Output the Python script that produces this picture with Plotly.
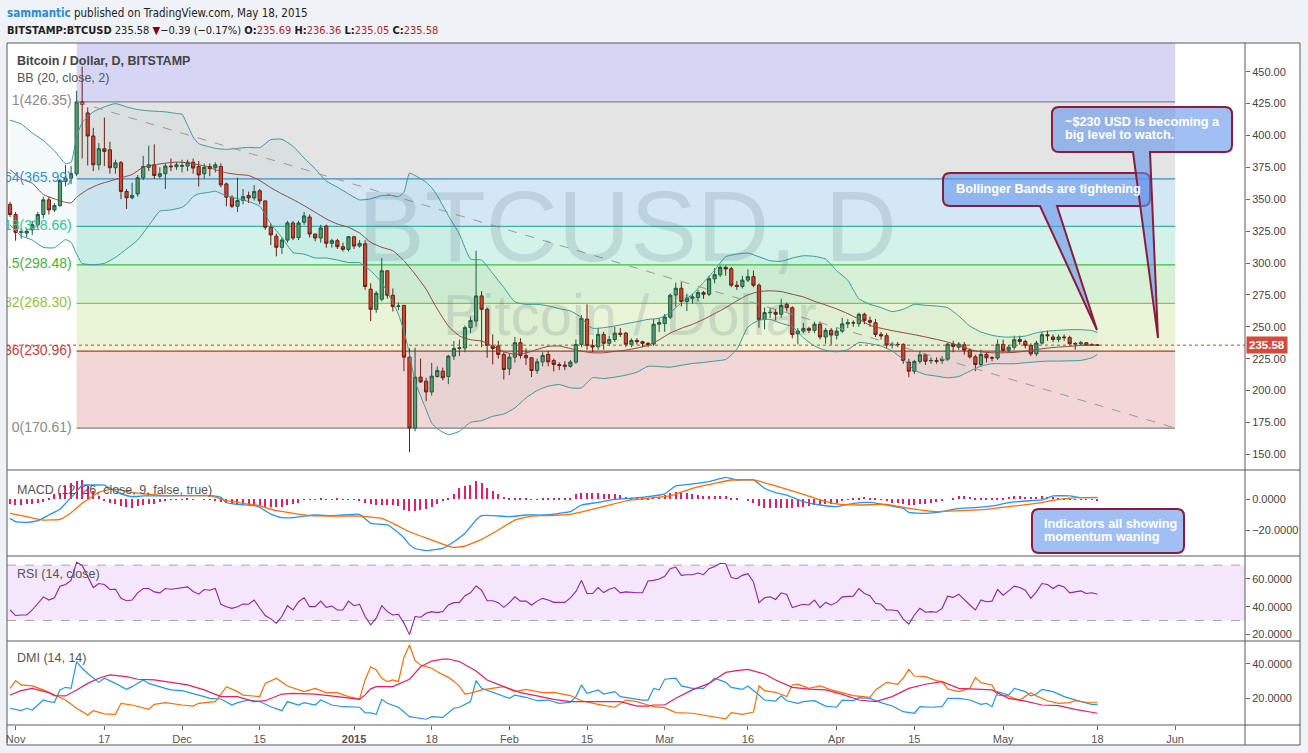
import pandas as pd
import plotly.graph_objects as go
from plotly.subplots import make_subplots

# ---------------- data ----------------
missing_days = ["2015-01-06", "2015-01-07", "2015-01-08"]   # Bitstamp halted trading
dates = [d.strftime("%Y-%m-%d") for d in pd.date_range("2014-10-31", "2015-05-18")
         if d.strftime("%Y-%m-%d") not in missing_days]

opens = [346, 338, 324, 323.5, 326, 330, 338, 349.5, 341.6, 345,
         364, 366.5, 370, 426.3, 417.7, 399.6, 377, 389.6, 388.8, 374.7,
         378.6, 356.1, 351.1, 354.2, 366.8, 375, 377, 368, 370, 376,
         375.5, 375.7, 376, 379, 375.7, 370, 375.7, 374.7, 375.7, 362,
         351.6, 344.5, 349, 353, 351, 356.6, 348.7, 328, 321, 312.3,
         318, 331.4, 319.9, 332, 336, 322.7, 319.6, 329, 315.4, 317.5,
         312.8, 310.7, 320.6, 313.3, 315, 279.5, 263.7,
         271.6, 293.9, 274.7, 266, 266.8, 226.2, 170.6, 210.5, 207.3, 198.9,
         211, 215.2, 211, 227, 233, 233.3, 249.3, 254.5, 274.2, 263.7,
         235, 235, 228.3,
         217, 226.2, 237.5, 227.5, 225.7, 215.7, 222.5, 228.3, 223.5, 220.4,
         220, 219, 222.3, 236.2, 256, 235.4, 234.3, 244, 237, 240,
         245, 245, 236.2, 239.3, 238.3, 237, 236.5, 252,
         252.5, 257.5, 274.9, 280.2, 269.8, 272.4, 273, 276.8, 275.5, 287.6,
         290.8, 296.6, 295.5, 282.6, 281.6, 286.6, 289.3, 282.6, 255.8, 261,
         261.3, 259.8, 267.6, 265, 244.5, 246.6, 248.7, 247.2, 252, 242, 247.2,
         243.3, 246.6, 252.3, 253, 252.5, 259.8, 255, 253.2, 244, 243,
         235.7, 236.2, 236.2, 222.3, 215.2, 222.8, 228, 223.2, 223.6, 223.4,
         224.6, 236.4, 234, 236, 231.6, 226.4, 220.4, 228.3, 225.7, 225.5,
         236.2, 231.6, 234, 240, 238.5, 235.4, 228.8, 237.2, 243.8, 242,
         240, 242, 241.5, 236.8, 236.5, 237.5, 236, 235.69]

highs = [348, 340, 327, 327, 333, 340, 352, 352, 347, 366,
         377, 376, 435, 454, 422, 406, 394, 414, 395, 381,
         380, 358, 363, 369, 384, 392, 393, 375, 378, 382,
         379, 381, 381, 382, 380, 378, 378, 379, 378, 363,
         353, 367, 358, 356, 361, 358, 349, 331, 323, 320,
         333, 333, 333, 340, 338, 323, 330, 330, 319, 319,
         316, 321, 321, 318, 318, 284, 278,
         304, 294, 280, 269, 267, 233, 233.6, 225, 210, 221.7,
         219, 218, 228, 238.8, 240, 251, 258, 309.6, 278, 265,
         244, 239, 230,
         229, 242, 241, 233, 226, 225, 230, 231, 225, 222,
         223, 224, 240, 259, 267.6, 240, 249, 246, 243, 250,
         249, 246, 241, 241, 239, 238, 256, 257,
         260, 276, 284.7, 285, 276, 276, 279, 278, 290, 296,
         298, 298, 297, 286, 290, 295, 294, 284, 265, 265,
         264, 272, 269, 266, 249, 253, 250, 254, 254, 249, 249,
         249, 257, 256, 255, 261, 261, 258, 256, 246, 245,
         238, 238, 237, 225, 224, 231, 229, 226, 226, 227,
         237, 239, 238, 238, 233, 228, 232, 230, 227, 240,
         240, 236, 243, 243, 240, 237, 239, 246, 247, 244,
         244, 244, 243, 238, 239, 238, 237, 236.36]

lows = [336, 317.5, 319, 320, 322, 327, 335, 338, 340, 344,
        360, 362, 368, 382, 376.5, 372, 373, 376, 370, 370,
        350, 342.4, 350, 352, 365, 372, 366, 366, 358, 372,
        373, 371, 372, 370, 360, 366, 368, 371, 359.5, 344.5,
        343, 340, 346, 347, 349, 346, 326, 314, 305.2, 307,
        316, 318, 318, 330, 320, 317, 316, 312, 312, 311,
        309, 309, 311, 312, 279, 254.5, 261,
        270, 272, 262, 263, 215.2, 151.7, 168, 206, 191.6, 196,
        210, 208, 205, 224, 227, 230, 245, 250, 234, 225.7,
        220.5, 225, 208.6,
        212, 222, 225, 220, 210.5, 213, 219, 219, 215, 216,
        216, 218, 221, 234, 232, 230, 232, 232, 235, 238,
        242, 234, 234, 236, 234, 234, 235, 246,
        246, 256, 265.6, 266, 262.4, 268, 270, 272, 274, 284,
        289, 290, 281, 279, 280, 285, 281, 249.3, 248, 257,
        255, 257, 262, 241, 236.2, 245, 245, 245, 240, 236.7, 236,
        240, 245, 249, 250, 250, 252, 250, 242, 240, 233,
        233, 234, 221, 210.5, 213, 221, 220, 221, 221, 221,
        223, 230, 232, 228, 225, 215.2, 219, 222, 223, 224,
        230, 230, 232, 236, 233, 227, 227, 236, 239, 238,
        238, 239, 235, 232, 235, 235, 235, 235.05]

closes = [338, 324, 324.5, 325, 330, 338, 349.5, 341.6, 345, 364.7,
          366.5, 370, 426.3, 424.5, 399.6, 377, 389.6, 387.5, 374.7, 378.6,
          356.1, 351.1, 353, 366.8, 375.7, 377, 368.6, 370, 376, 375.5,
          377, 376.5, 379, 374.4, 369, 375, 374, 377, 361.3, 351.6,
          344.5, 349, 352, 351, 356, 348.7, 328, 322, 312.3, 318,
          331.4, 319.6, 331.4, 336.9, 322.7, 319.6, 327.5, 315.4, 317.5, 312.8,
          310.7, 320.6, 313.3, 315.4, 281.6, 263.7, 276.3,
          293.9, 274.7, 265.8, 266.3, 226.2, 170.6, 210.5, 206.8, 198.9, 211.3,
          215.7, 210, 227, 233, 233.5, 249.3, 255, 274.2, 263.7, 235.4,
          233, 228.3, 216.5,
          226.2, 237.5, 227.5, 225.7, 215.7, 222.5, 227.5, 222.5, 220.4, 219.6,
          219, 222.3, 236.2, 256.6, 235.4, 234.1, 244, 237, 240, 245,
          244, 236.2, 239.3, 238.3, 237, 236.2, 252, 253.3,
          257.7, 274.7, 280.2, 269.8, 272.4, 273.4, 276.8, 275.5, 287.6, 290.8,
          296.6, 295.3, 282.6, 281.6, 286.6, 289.3, 282.6, 255.8, 261.1, 261.3,
          259.8, 266.8, 265, 244, 246.6, 248.7, 247.2, 252, 242, 247.2, 243.5,
          246.6, 252.3, 253.2, 253, 259.8, 255, 253.5, 244, 242.8, 235.7,
          236.2, 236, 223.6, 215.2, 222.8, 228, 223, 223.6, 223, 224.6,
          236.4, 234.5, 236.4, 231.6, 226.4, 220.4, 228.3, 225.7, 225.5, 236.2,
          231.6, 234, 239.8, 238.5, 235.4, 228.8, 237.2, 243.8, 243, 240,
          242, 241.5, 236.8, 236.5, 237.5, 235.5, 235.7, 235.58]

# Bollinger Bands (20, close, 2)  (MM-DD, value)
bb_upper = [("10-31", 412), ("11-02", 409), ("11-04", 402), ("11-06", 396), ("11-08", 388), ("11-10", 378),
            ("11-11", 379), ("11-12", 399), ("11-13", 410), ("11-15", 418.5), ("11-17", 422.4), ("11-19", 425),
            ("11-21", 422.4), ("11-23", 420.3), ("11-25", 419.3), ("11-28", 418.5), ("11-30", 417.2), ("12-01", 416.6),
            ("12-02", 408), ("12-03", 398.8), ("12-04", 393.6), ("12-06", 391), ("12-07", 389.9), ("12-09", 389.1),
            ("12-11", 389.9), ("12-13", 390.7), ("12-15", 390.4), ("12-17", 396.7), ("12-19", 397), ("12-21", 391.5),
            ("12-23", 382.3), ("12-25", 373.9), ("12-27", 364.2), ("12-29", 359.5), ("12-31", 354.2), ("01-02", 349.5),
            ("01-04", 350.3), ("01-09", 352.9), ("01-11", 352.9), ("01-12", 352.1), ("01-13", 355.5), ("01-14", 370.5),
            ("01-15", 368.6), ("01-17", 363.4), ("01-18", 359), ("01-19", 352.9), ("01-21", 337.2), ("01-23", 322.6),
            ("01-25", 303.1), ("01-27", 302.3), ("01-29", 291.8), ("01-31", 280.8), ("02-02", 269.5), ("02-04", 267.6),
            ("02-06", 267.6), ("02-08", 266.4), ("02-10", 264.2), ("02-12", 262.4), ("02-14", 257.2), ("02-15", 251.9),
            ("02-16", 248.8), ("02-18", 249.3), ("02-20", 250.6), ("02-22", 252.4), ("02-24", 254), ("02-26", 255.8),
            ("02-28", 256.6), ("03-02", 261.1), ("03-04", 268.9), ("03-06", 275.5), ("03-08", 284.7), ("03-10", 294.4),
            ("03-12", 304.9), ("03-14", 307), ("03-16", 307.8), ("03-18", 304.9), ("03-20", 301.8), ("03-22", 301.3),
            ("03-24", 303.9), ("03-26", 305.7), ("03-28", 305.2), ("03-30", 303.1), ("04-01", 293.9), ("04-03", 286.5),
            ("04-05", 272), ("04-07", 267.6), ("04-09", 265), ("04-11", 261.9), ("04-13", 263.7), ("04-15", 267.6),
            ("04-17", 266.8), ("04-19", 266.3), ("04-21", 265), ("04-23", 258.5), ("04-25", 250.6), ("04-27", 245.9),
            ("04-29", 243.3), ("05-01", 242), ("05-03", 242), ("05-05", 242.7), ("05-07", 245.3), ("05-09", 246.6),
            ("05-11", 247.2), ("05-13", 247.7), ("05-15", 247.7), ("05-17", 247), ("05-18", 245.4)]

bb_mid = [("10-31", 373.1), ("11-02", 366), ("11-04", 362.6), ("11-06", 353.7), ("11-08", 350.3), ("11-10", 347.6),
          ("11-11", 347.1), ("11-12", 351.6), ("11-14", 357.6), ("11-16", 361.6), ("11-18", 364.2), ("11-20", 366.8),
          ("11-22", 369.4), ("11-24", 375.2), ("11-26", 377), ("11-28", 378.3), ("11-30", 379.1), ("12-02", 378.6),
          ("12-04", 377), ("12-06", 375.2), ("12-07", 373.1), ("12-09", 370.7), ("12-11", 369.4), ("12-13", 368.6),
          ("12-15", 364.7), ("12-17", 359), ("12-19", 354.2), ("12-21", 349.8), ("12-23", 345), ("12-25", 339.8),
          ("12-27", 334.5), ("12-29", 330.6), ("12-31", 328), ("01-02", 323.5), ("01-04", 316.2), ("01-09", 312.3),
          ("01-11", 309.6), ("01-13", 301.8), ("01-15", 291.3), ("01-17", 279.5), ("01-18", 271.6), ("01-19", 264),
          ("01-21", 250.6), ("01-23", 242.8), ("01-25", 239.8), ("01-27", 238.8), ("01-29", 234.9), ("01-31", 230.4),
          ("02-02", 228.3), ("02-04", 229.4), ("02-06", 232.2), ("02-08", 234.6), ("02-10", 234.9), ("02-12", 233),
          ("02-14", 230.9), ("02-16", 229.6), ("02-18", 229.6), ("02-20", 230.7), ("02-22", 231.7), ("02-24", 233.3),
          ("02-26", 235.4), ("02-28", 239.8), ("03-02", 245.1), ("03-04", 248.8), ("03-06", 251.9), ("03-08", 255.8),
          ("03-10", 260.3), ("03-12", 265), ("03-14", 270.3), ("03-16", 275), ("03-18", 277.6), ("03-20", 278.2),
          ("03-22", 277.6), ("03-24", 275.5), ("03-26", 273.4), ("03-28", 270), ("03-30", 267.1), ("04-01", 264),
          ("04-03", 260.3), ("04-05", 256), ("04-07", 251.1), ("04-09", 248.8), ("04-11", 247), ("04-13", 245.4),
          ("04-15", 243.8), ("04-17", 242), ("04-19", 240.1), ("04-21", 238), ("04-23", 235.1), ("04-25", 232.2),
          ("04-27", 230.4), ("04-29", 229.6), ("05-01", 229.6), ("05-03", 229.9), ("05-05", 230.9), ("05-07", 232.2),
          ("05-09", 233.3), ("05-11", 234.1), ("05-13", 234.6), ("05-15", 235.4), ("05-18", 235.7)]

bb_lower = [("10-31", 329.8), ("11-02", 321.4), ("11-04", 318), ("11-06", 312.3), ("11-08", 312), ("11-10", 318.3),
            ("11-11", 316.2), ("11-12", 307), ("11-13", 299.7), ("11-15", 298.6), ("11-17", 299.7), ("11-19", 304.4),
            ("11-21", 311), ("11-23", 318), ("11-25", 329.3), ("11-27", 340.6), ("11-29", 341.6), ("12-01", 343.7),
            ("12-02", 346.9), ("12-03", 352.1), ("12-04", 354.2), ("12-06", 355.5), ("12-07", 356.3), ("12-09", 352.6),
            ("12-11", 350.5), ("12-13", 348.2), ("12-15", 344.5), ("12-17", 330.6), ("12-19", 320.1), ("12-21", 308.3),
            ("12-23", 307), ("12-25", 303.9), ("12-27", 303.9), ("12-29", 302.3), ("12-31", 300.4), ("01-02", 300.2),
            ("01-04", 293.9), ("01-09", 284.7), ("01-11", 269), ("01-12", 259.8), ("01-13", 246.7), ("01-14", 228.3),
            ("01-15", 207.3), ("01-17", 185), ("01-18", 174.5), ("01-19", 170.1), ("01-21", 165.4), ("01-23", 168),
            ("01-25", 175.1), ("01-27", 176.4), ("01-29", 179.8), ("01-31", 181.6), ("02-02", 186.4), ("02-04", 194.2),
            ("02-06", 200), ("02-08", 203.4), ("02-10", 204.7), ("02-12", 202.1), ("02-14", 202.1), ("02-16", 210),
            ("02-18", 209.4), ("02-20", 210.5), ("02-22", 212.1), ("02-24", 214.4), ("02-26", 219), ("02-28", 218.8),
            ("03-02", 218.3), ("03-04", 219.8), ("03-06", 221.2), ("03-08", 222), ("03-10", 223.1), ("03-12", 224.4),
            ("03-14", 232.3), ("03-16", 249.8), ("03-18", 255.1), ("03-20", 255.8), ("03-22", 252.7), ("03-24", 250.1),
            ("03-26", 241.4), ("03-28", 234.9), ("03-30", 231.5), ("04-01", 230.4), ("04-03", 232), ("04-05", 237.7),
            ("04-07", 236.7), ("04-09", 234.9), ("04-11", 231), ("04-13", 224.4), ("04-15", 216), ("04-17", 212.6),
            ("04-19", 211.3), ("04-21", 210), ("04-23", 211), ("04-25", 215.2), ("04-27", 219.1), ("04-29", 221),
            ("05-01", 221), ("05-03", 221), ("05-05", 221.8), ("05-07", 222.5), ("05-09", 223.1), ("05-11", 223.1),
            ("05-13", 223.3), ("05-15", 223.6), ("05-17", 225.7), ("05-18", 228.3)]

# MACD (12, 26, close, 9)
macd_line = [("10-31", -12.4), ("11-01", -14.5), ("11-03", -15), ("11-05", -13.9), ("11-07", -10.2), ("11-09", -6.5),
             ("11-10", -2.6), ("11-12", 5), ("11-13", 9.3), ("11-15", 9.3), ("11-17", 9.3), ("11-18", 7.2),
             ("11-20", 3.5), ("11-22", 1.7), ("11-24", 2.2), ("11-27", 2.2), ("11-30", 2.4), ("12-03", 2.4),
             ("12-06", 2.4), ("12-08", 1.3), ("12-09", -2.2), ("12-11", -3.3), ("12-14", -4.1), ("12-15", -5.2),
             ("12-17", -9.6), ("12-19", -11.9), ("12-21", -11.9), ("12-23", -10.9), ("12-25", -10.2), ("12-28", -10.6),
             ("12-30", -10.2), ("01-02", -9.8), ("01-04", -15.6), ("01-05", -16), ("01-10", -16.7), ("01-11", -19),
             ("01-13", -25), ("01-14", -29.5), ("01-15", -32), ("01-17", -33.4), ("01-18", -33), ("01-20", -31.9),
             ("01-22", -27.6), ("01-24", -22.1), ("01-25", -17.8), ("01-26", -13.5), ("01-27", -10.6), ("01-29", -10.6),
             ("02-01", -11.3), ("02-04", -10.2), ("02-07", -10.2), ("02-10", -9.1), ("02-12", -8), ("02-14", -3.7),
             ("02-17", -2), ("02-20", 0), ("02-23", 0.7), ("02-26", 1.7), ("03-01", 3.5), ("03-03", 8.7),
             ("03-06", 10), ("03-09", 11.5), ("03-12", 14.3), ("03-14", 12.6), ("03-17", 12.6), ("03-19", 7.2),
             ("03-21", 4.3), ("03-23", 2.8), ("03-26", -1.5), ("03-29", -3.7), ("04-01", -4.8), ("04-04", -2.6),
             ("04-07", -2), ("04-10", -3.7), ("04-13", -5.9), ("04-14", -8.5), ("04-17", -9.1), ("04-20", -8),
             ("04-23", -5.9), ("04-26", -5.4), ("04-29", -4.3), ("05-02", -2.2), ("05-05", -1.1), ("05-08", -0.4),
             ("05-10", 2.2), ("05-13", 2.2), ("05-15", 1.1), ("05-18", 1.1)]

signal_line = [("10-31", -9.1), ("11-03", -11.3), ("11-06", -13.5), ("11-09", -13), ("11-11", -8.7), ("11-13", -2.6),
               ("11-16", 4.5), ("11-18", 6.5), ("11-20", 6.1), ("11-22", 4.6), ("11-25", 3.3), ("11-28", 2.4),
               ("12-02", 2.4), ("12-06", 2.4), ("12-09", -0.9), ("12-12", -2.6), ("12-15", -4.3), ("12-18", -7.4),
               ("12-21", -9.1), ("12-24", -10.6), ("12-29", -10.9), ("01-02", -10.9), ("01-09", -12.4), ("01-11", -15.6),
               ("01-14", -21.1), ("01-18", -26.5), ("01-21", -30.4), ("01-22", -31.3), ("01-24", -30.4), ("01-27", -26.1),
               ("01-30", -20), ("02-02", -13.5), ("02-05", -10.9), ("02-08", -10.6), ("02-12", -9.8), ("02-15", -7.4),
               ("02-19", -3.7), ("02-23", -0.4), ("02-26", 0.7), ("03-02", 2.2), ("03-06", 7.2), ("03-10", 10.4),
               ("03-13", 12.6), ("03-17", 12.6), ("03-21", 8.7), ("03-26", 3.3), ("03-29", -0.4), ("04-01", -3),
               ("04-05", -3.7), ("04-10", -3.3), ("04-14", -5.9), ("04-19", -8), ("04-23", -7.4), ("04-28", -6.5),
               ("05-02", -4.8), ("05-07", -2.6), ("05-11", 0), ("05-15", 1.1), ("05-18", 1.3)]

macd_hist = [-3.3, -3.7, -3.7, -3.3, -2.8, -2.6, -1.7, 1.1, 3.3, 4.3,
             8.7, 10.9, 12, 12.6, 8.7, 5.4, 2.2, -1.1, -2.2, -3.3,
             -4.3, -4.8, -5.4, -4.3, -3.7, -3.3, -2.8, -1.7, -0.7, -0.4,
             -0.2, 0.2, 0.3, 0.2, 0, -0.2, -0.3, -0.7, -1.7, -2.6,
             -3.3, -3.7, -3.9, -3.9, -3.9, -4.3, -4.8, -5, -5, -4.8,
             -3.9, -3.3, -2.2, -0.4, -0.2, 0.2, 0.3, 0.2, 0.2, 0.3,
             0.1, 0.2, -0.2, -1.1, -2.2, -3.3, -3.7,
             -3.7, -3.7, -3.7, -4.3, -7, -7.6, -7.6, -7, -6.1, -5,
             -2.8, -1.1, 0.4, 3.3, 7.2, 8.7, 9.3, 12, 10.9, 7.6,
             5.4, 3.3, 1.7,
             0.5, 0.4, 0.4, 0.3, 0.2, 0.2, 0.3, 0.3, 0.3, 0.3,
             0.3, 1.1, 3.3, 4.3, 4.3, 4.3, 4.3, 3.7, 3.3, 3.3,
             2.8, 1.5, 1.1, 0.7, 0.4, 1.1, 1.5, 1.7,
             2.6, 3.9, 4.8, 5, 3.9, 3.3, 2.6, 2.2, 2.2, 2.2,
             2.2, 2.2, 1.1, 0.4, 0, -1.1, -2.2, -4.3, -5.4, -5.9,
             -5.9, -5.9, -5.4, -5.4, -5, -4.8, -4.3, -3.9, -3.7, -3.3, -2.8,
             -2.2, -1.1, 0.2, 0.7, 1.1, 1.5, 1.1, 0.4, -0.4, -1.1,
             -2.2, -2.6, -3.3, -3.7, -3.7, -3.3, -2.8, -2.2, -1.7, -1.1,
             0, 1.1, 2.2, 2.2, 1.5, 1.1, 0.7, 0.4, 0.4, 0.7,
             1.1, 1.7, 2.2, 2.2, 1.7, 1.5, 1.7, 2.2, 1.7, 1.7,
             1.1, 0.4, 0.2, 0.1, 0.1, 0.1, -0.4, -0.7]

# RSI (14, close), one value per bar
rsi = [37.6, 33.6, 34, 34, 37.6, 42.5, 47.1, 44.8, 46.4, 54.8,
       56, 59, 72.1, 69.8, 61.9, 53.8, 56.7, 56, 52.4, 52.6,
       46, 44.3, 44.8, 50, 53.1, 53.1, 50.7, 50, 53.1, 52.6,
       53.1, 53.5, 54.3, 51, 49, 52.4, 51.9, 53.1, 41.7, 40,
       38.8, 40, 41.9, 41.7, 44.8, 39, 33.6, 31.2, 28.1, 32.9,
       40.7, 37.6, 43.6, 46.4, 40, 40, 44, 39.5, 40.5, 37.6,
       37.6, 44, 40.7, 41.7, 32.9, 26.9, 31.7,
       40.7, 36.4, 34, 34.5, 28.1, 19.8, 32.9, 32.4, 35.2, 36.4,
       35.7, 36.5, 41.2, 42.9, 43.1, 47.9, 50, 55, 51.9, 44.3,
       44.3, 42.9, 39.5,
       42.9, 47.1, 44, 44, 41.2, 44, 46, 44.8, 43.1, 43.1,
       43.1, 46.4, 51, 59, 49.5, 49.5, 53.8, 50.2, 52.6, 53.8,
       50, 50.7, 50.2, 50, 50, 58.5, 59, 60,
       61.9, 67.4, 68.6, 62.6, 63.1, 63.1, 64.3, 63.1, 67.4, 69,
       71.4, 71, 61, 60.2, 62.6, 63.8, 57.9, 42.9, 46.4, 47.1,
       45.2, 50, 48.8, 39.3, 40.7, 41.7, 41.2, 44.8, 39.3, 43.1, 41.2,
       43.1, 47.1, 47.6, 47.6, 53.1, 49.5, 47.9, 42.4, 41.7, 37.6,
       37.6, 37.1, 31, 27.4, 34, 38.8, 36, 36.4, 36, 38.8,
       47.6, 46.7, 49, 44.8, 41.2, 37.6, 44.8, 43.6, 44, 52.4,
       48.3, 51.4, 54.8, 53.8, 51.9, 46, 50.7, 56.7, 56, 53.1,
       55.5, 54.3, 50, 50.7, 51.4, 49.5, 50, 49]

# DMI (14, 14)
plus_di = [("10-31", 14.2), ("11-02", 12.8), ("11-03", 14.2), ("11-04", 13.2), ("11-06", 19), ("11-07", 18.1),
           ("11-08", 17.7), ("11-09", 24.9), ("11-10", 26.4), ("11-11", 25.8), ("11-12", 41.4), ("11-13", 37.5),
           ("11-14", 34.5), ("11-15", 31.7), ("11-16", 29.3), ("11-17", 31.7), ("11-19", 28.7), ("11-21", 25.2),
           ("11-22", 26.8), ("11-24", 30.7), ("11-25", 28.7), ("11-28", 25.8), ("11-29", 24.9), ("12-01", 24.5),
           ("12-03", 22.9), ("12-05", 21), ("12-06", 20), ("12-08", 19.6), ("12-10", 16.1), ("12-11", 17.5),
           ("12-13", 19), ("12-15", 18.1), ("12-17", 15.1), ("12-19", 12.8), ("12-20", 18.1), ("12-22", 16.1),
           ("12-23", 17.5), ("12-25", 16.1), ("12-26", 19), ("12-28", 16.1), ("12-30", 15.1), ("01-02", 14.8),
           ("01-03", 11.7), ("01-04", 11.5), ("01-05", 10.7), ("01-09", 19.4), ("01-10", 17.1), ("01-12", 14.8),
           ("01-14", 9.3), ("01-17", 7.8), ("01-18", 9.3), ("01-20", 8.9), ("01-22", 14.2), ("01-23", 14.8),
           ("01-25", 18.1), ("01-26", 30.3), ("01-27", 25.8), ("01-29", 23.3), ("01-30", 22.5), ("02-01", 20),
           ("02-02", 21.9), ("02-04", 20.6), ("02-06", 18.6), ("02-08", 19), ("02-10", 17.1), ("02-12", 17.7),
           ("02-13", 21), ("02-14", 27.8), ("02-15", 22.9), ("02-17", 24.9), ("02-18", 22.5), ("02-20", 23.9),
           ("02-21", 21), ("02-23", 20), ("02-25", 19), ("02-26", 19), ("02-27", 25.8), ("02-28", 24.9),
           ("03-01", 31.1), ("03-03", 31.7), ("03-04", 27.2), ("03-06", 25.8), ("03-08", 25.8), ("03-09", 28.7),
           ("03-10", 31.7), ("03-12", 29.3), ("03-13", 26.4), ("03-15", 25.2), ("03-16", 27.2), ("03-18", 21.9),
           ("03-19", 19), ("03-21", 18.4), ("03-22", 21.4), ("03-23", 18.6), ("03-25", 17.1), ("03-26", 18.1),
           ("03-28", 18.6), ("03-30", 15.5), ("04-01", 14.8), ("04-02", 19), ("04-04", 18.6), ("04-05", 20.4),
           ("04-07", 20), ("04-09", 17.5), ("04-11", 15.5), ("04-13", 12.2), ("04-15", 11.3), ("04-16", 15.1),
           ("04-18", 14.8), ("04-20", 15.1), ("04-21", 20), ("04-23", 20), ("04-25", 19), ("04-27", 16.5),
           ("04-28", 17.1), ("04-29", 15.1), ("04-30", 23.9), ("05-02", 21.9), ("05-03", 25.8), ("05-05", 23.9),
           ("05-06", 21.4), ("05-07", 22.5), ("05-08", 25.2), ("05-10", 23.9), ("05-12", 21), ("05-15", 18.1),
           ("05-17", 16.5), ("05-18", 16.5)]

minus_di = [("10-31", 25.8), ("11-01", 30.3), ("11-02", 27.8), ("11-04", 27.2), ("11-06", 24.9), ("11-08", 21.9),
            ("11-10", 19), ("11-12", 14.2), ("11-14", 10.3), ("11-15", 12.8), ("11-17", 10.9), ("11-19", 10.7),
            ("11-20", 17.1), ("11-22", 16.1), ("11-25", 13.6), ("11-26", 16.5), ("11-28", 17.5), ("12-01", 16.1),
            ("12-03", 15.5), ("12-04", 17.1), ("12-07", 18.1), ("12-09", 26.8), ("12-11", 23.9), ("12-12", 21.9),
            ("12-15", 21), ("12-16", 28.7), ("12-18", 31.7), ("12-20", 27.2), ("12-23", 23.9), ("12-25", 25.8),
            ("12-27", 23.3), ("12-29", 23.3), ("12-31", 21), ("01-02", 19.6), ("01-03", 30.7), ("01-04", 38.4),
            ("01-05", 36.5), ("01-09", 31.7), ("01-10", 29.7), ("01-11", 30.7), ("01-12", 29.7), ("01-13", 44),
            ("01-14", 51.1), ("01-15", 41.9), ("01-16", 39.4), ("01-17", 38.5), ("01-18", 37.5), ("01-19", 35.5),
            ("01-21", 32.2), ("01-22", 30), ("01-23", 27), ("01-24", 22.5), ("01-25", 23), ("01-27", 24.9),
            ("01-29", 25.8), ("01-31", 26.8), ("02-02", 23.9), ("02-04", 25.2), ("02-07", 23.3), ("02-09", 23.5),
            ("02-12", 21.6), ("02-14", 18.6), ("02-17", 16.5), ("02-20", 14.8), ("02-22", 19), ("02-24", 18.1),
            ("02-26", 16.1), ("02-27", 15.1), ("03-01", 14.6), ("03-03", 11.7), ("03-06", 11.3), ("03-09", 9.7),
            ("03-12", 8), ("03-13", 11.7), ("03-15", 10.7), ("03-17", 12), ("03-18", 27.2), ("03-19", 24.5),
            ("03-21", 23.5), ("03-23", 21), ("03-24", 27.8), ("03-25", 28.3), ("03-27", 25.8), ("03-29", 27.2),
            ("03-31", 24.9), ("04-02", 23.3), ("04-04", 21.6), ("04-07", 20.6), ("04-08", 24.9), ("04-10", 29.3),
            ("04-12", 28.2), ("04-13", 31.7), ("04-14", 36.9), ("04-15", 33), ("04-17", 32.6), ("04-19", 30.3),
            ("04-20", 29.7), ("04-21", 25.5), ("04-23", 23.9), ("04-25", 25.8), ("04-26", 32.2), ("04-27", 29.1),
            ("04-29", 27.8), ("04-30", 21.9), ("05-02", 21.4), ("05-03", 20), ("05-04", 19), ("05-06", 23.3),
            ("05-07", 21.4), ("05-09", 18.6), ("05-11", 17.1), ("05-13", 17.5), ("05-14", 18.6), ("05-16", 17.7),
            ("05-18", 17.7)]

adx = [("10-31", 21.9), ("11-02", 24.5), ("11-04", 25.8), ("11-06", 24), ("11-07", 23.3), ("11-08", 21.6),
       ("11-10", 21.4), ("11-12", 24.9), ("11-14", 28.7), ("11-16", 31.7), ("11-18", 33.6), ("11-21", 32.6),
       ("11-23", 31.1), ("11-26", 30.7), ("11-29", 29.3), ("12-02", 27.8), ("12-05", 24.9), ("12-08", 21),
       ("12-11", 21), ("12-14", 18.1), ("12-16", 18.6), ("12-19", 22.5), ("12-21", 22.9), ("12-25", 22.5),
       ("12-29", 21), ("01-02", 19.4), ("01-03", 22), ("01-04", 25.5), ("01-05", 26.8), ("01-11", 26.8),
       ("01-14", 31.1), ("01-16", 38.4), ("01-18", 41.7), ("01-20", 42.8), ("01-21", 42.9), ("01-23", 41.4),
       ("01-26", 35.9), ("01-28", 30.7), ("01-31", 26.8), ("02-03", 23.3), ("02-06", 21.4), ("02-09", 19.4),
       ("02-12", 18.1), ("02-15", 18.1), ("02-18", 18.1), ("02-21", 18.1), ("02-24", 15.5), ("02-26", 15.5),
       ("02-27", 16.1), ("03-01", 16.1), ("03-03", 20), ("03-06", 24.9), ("03-09", 28.7), ("03-12", 35.1),
       ("03-14", 36.1), ("03-16", 36.9), ("03-19", 34.2), ("03-21", 30.7), ("03-24", 26.4), ("03-27", 25.4),
       ("03-30", 24.9), ("04-02", 22.3), ("04-05", 19), ("04-08", 18.1), ("04-11", 21), ("04-14", 25.8),
       ("04-17", 28.2), ("04-20", 29.7), ("04-23", 25.8), ("04-26", 25.2), ("04-29", 24.9), ("05-02", 20),
       ("05-05", 18.4), ("05-08", 16.1), ("05-11", 15.7), ("05-14", 13.6), ("05-18", 11.3)]

# Fibonacci retracement drawn from the Nov 12 high to the Jan 14 low, extended to Jun 1
fib_start, fib_end = "11-12", "06-01"
fib_levels = [426.35, 365.99, 328.66, 298.48, 268.30, 230.96, 170.61]
fib_labels = ["1(426.35)", "0.764(365.99)", "0.618(328.66)", "0.5(298.48)",
              "0.382(268.30)", "0.236(230.96)", "0(170.61)"]
fib_top = 584.40
last_price = 235.58

tick_dates = ["11-01", "11-17", "12-01", "12-15", "01-01", "01-18", "02-01", "02-15",
              "03-01", "03-16", "04-01", "04-15", "05-01", "05-18", "06-01"]
tick_text = ["Nov", "17", "Dec", "15", "<b>2015</b>", "18", "Feb", "15",
             "Mar", "16", "Apr", "15", "May", "18", "Jun"]

# ---------------- helpers ----------------
pos = {d: k for k, d in enumerate(dates)}


def full(md):
    return ("2014-" if md[:2] in ("10", "11", "12") else "2015-") + md


def xpos(md):
    d = full(md)
    if d in pos:
        return pos[d]
    if d < dates[0]:
        return (pd.Timestamp(d) - pd.Timestamp(dates[0])).days
    if d < dates[-1]:   # inside the Bitstamp halt
        return pos["2015-01-09"] - 0.5
    return len(dates) - 1 + (pd.Timestamp(d) - pd.Timestamp(dates[-1])).days


def sx(samples):
    return [xpos(d) for d, _ in samples]


def sv(samples):
    return [v for _, v in samples]


bars = list(range(len(dates)))

W, H = 1308, 753
ML, MR, MT, MB = 7, 63, 43, 28
PW, PH = W - ML - MR, H - MT - MB


def px(x):
    return (x - ML) / PW


def py(y):
    return (H - MB - y) / PH


FONT = "Liberation Sans, Arial, sans-serif"

fig = make_subplots(rows=4, cols=1, shared_xaxes=True, vertical_spacing=0,
                    row_heights=[427, 86, 85, 84])

# ---- main pane ----
fig.add_trace(go.Scatter(x=sx(bb_lower), y=sv(bb_lower), mode="lines",
                         line=dict(color="#3a9a9a", width=1, shape="spline", smoothing=0.5),
                         hoverinfo="skip"), row=1, col=1)
fig.add_trace(go.Scatter(x=sx(bb_upper), y=sv(bb_upper), mode="lines", fill="tonexty",
                         fillcolor="rgba(0,140,150,0.045)",
                         line=dict(color="#3a9a9a", width=1, shape="spline", smoothing=0.5),
                         hoverinfo="skip"), row=1, col=1)
fig.add_trace(go.Scatter(x=sx(bb_mid), y=sv(bb_mid), mode="lines",
                         line=dict(color="#944545", width=1, shape="spline", smoothing=0.5),
                         hoverinfo="skip"), row=1, col=1)

fs = xpos(fib_start)
fe = xpos(fib_end)
label_colors = ["#8a8a8a", "#3193dc", "#33c49c", "#39b939", "#8cc43c", "#d23a3a", "#8a8a8a"]
fig.add_trace(go.Scatter(x=[fs - 0.9] * len(fib_levels), y=fib_levels, text=fib_labels, mode="text",
                         textposition="middle left", cliponaxis=True,
                         textfont=dict(family=FONT, size=14, color=label_colors),
                         hoverinfo="skip"), row=1, col=1)

fig.add_trace(go.Candlestick(x=bars, open=opens, high=highs, low=lows, close=closes,
                             increasing=dict(line=dict(color="#24573a", width=1), fillcolor="#559e6f"),
                             decreasing=dict(line=dict(color="#6e1d12", width=1), fillcolor="#d8432e"),
                             whiskerwidth=0, hoverinfo="skip"), row=1, col=1)

# ---- MACD ----
fig.add_trace(go.Bar(x=bars, y=macd_hist, width=0.22, marker=dict(color="#ec1a63", line=dict(width=0)),
                     hoverinfo="skip"), row=2, col=1)
fig.add_trace(go.Scatter(x=sx(macd_line), y=sv(macd_line), mode="lines",
                         line=dict(color="#2196f3", width=1.3, shape="spline", smoothing=0.4),
                         hoverinfo="skip"), row=2, col=1)
fig.add_trace(go.Scatter(x=sx(signal_line), y=sv(signal_line), mode="lines",
                         line=dict(color="#ff6d00", width=1.3, shape="spline", smoothing=0.4),
                         hoverinfo="skip"), row=2, col=1)

# ---- RSI ----
fig.add_trace(go.Scatter(x=bars, y=rsi, mode="lines", line=dict(color="#8e24aa", width=1.1),
                         hoverinfo="skip"), row=3, col=1)

# ---- DMI ----
fig.add_trace(go.Scatter(x=sx(plus_di), y=sv(plus_di), mode="lines", line=dict(color="#2196f3", width=1.2),
                         hoverinfo="skip"), row=4, col=1)
fig.add_trace(go.Scatter(x=sx(minus_di), y=sv(minus_di), mode="lines", line=dict(color="#ff6d00", width=1.2),
                         hoverinfo="skip"), row=4, col=1)
fig.add_trace(go.Scatter(x=sx(adx), y=sv(adx), mode="lines", line=dict(color="#e91e63", width=1.2),
                         hoverinfo="skip"), row=4, col=1)

# ---------------- shapes ----------------
shapes = []
page = "#eff2f6"
for (x0, y0, x1, y1) in [(0, 0, W, MT), (0, 0, ML, H), (1300, 0, W, H), (0, 745, W, H)]:
    shapes.append(dict(type="rect", xref="paper", yref="paper", x0=px(x0), x1=px(x1), y0=py(y0), y1=py(y1),
                       fillcolor=page, line=dict(width=0), layer="below"))

zone_colors = ["#d6d6f4", "#e4e4e4", "#d3e8f4", "#d3f3ea", "#d6f1d6", "#eaf4d6", "#f3d6d6"]
bounds = [fib_top] + fib_levels
for k in range(len(zone_colors)):
    shapes.append(dict(type="rect", xref="x", yref="y", x0=fs, x1=fe, y0=bounds[k + 1], y1=bounds[k],
                       fillcolor=zone_colors[k], line=dict(width=0), layer="below"))
line_colors = ["#808080", "#3a8ccc", "#38b59c", "#42bd42", "#8ccc24", "#c9302c", "#808080"]
for lvl, c in zip(fib_levels, line_colors):
    shapes.append(dict(type="line", xref="x", yref="y", x0=fs, x1=fe, y0=lvl, y1=lvl,
                       line=dict(color=c, width=1.2), layer="below"))
shapes.append(dict(type="line", xref="x", yref="y", x0=fs, x1=fe, y0=fib_levels[0], y1=fib_levels[-1],
                   line=dict(color="#9a9a9a", width=1, dash="dash"), layer="above"))
shapes.append(dict(type="line", xref="paper", yref="y", x0=0, x1=1, y0=last_price, y1=last_price,
                   line=dict(color="#e0392b", width=1, dash="dot"), layer="above"))

# RSI band
shapes.append(dict(type="rect", xref="paper", yref="y3", x0=0, x1=1, y0=30, y1=70,
                   fillcolor="#f4e7fb", line=dict(width=0), layer="below"))
for lv in (30, 70):
    shapes.append(dict(type="line", xref="paper", yref="y3", x0=0, x1=1, y0=lv, y1=lv,
                       line=dict(color="#aaa3b3", width=1, dash="dash"), layer="below"))

# frame and pane separators
frame = "#5a5a5a"
shapes.append(dict(type="rect", xref="paper", yref="paper", x0=px(7), x1=px(1300), y0=py(43), y1=py(745),
                   line=dict(color=frame, width=1), fillcolor="rgba(0,0,0,0)", layer="above"))
for yy in (470, 556, 641, 725):
    shapes.append(dict(type="line", xref="paper", yref="paper", x0=px(7), x1=px(1300), y0=py(yy), y1=py(yy),
                       line=dict(color=frame, width=1), layer="above"))
shapes.append(dict(type="line", xref="paper", yref="paper", x0=px(1245), x1=px(1245), y0=py(43), y1=py(745),
                   line=dict(color=frame, width=1), layer="above"))


def bubble(x0, y0, x1, y1, r=7, ptr=None):
    def P(x, y):
        return f"{px(x):.5f},{py(y):.5f}"
    p = f"M{P(x0 + r, y0)} L{P(x1 - r, y0)} Q{P(x1, y0)} {P(x1, y0 + r)} L{P(x1, y1 - r)} Q{P(x1, y1)} {P(x1 - r, y1)}"
    if ptr:
        p += f" L{P(ptr[1], y1)} L{P(ptr[2], ptr[3])} L{P(ptr[0], y1)}"
    p += f" L{P(x0 + r, y1)} Q{P(x0, y1)} {P(x0, y1 - r)} L{P(x0, y0 + r)} Q{P(x0, y0)} {P(x0 + r, y0)} Z"
    return dict(type="path", xref="paper", yref="paper", path=p, fillcolor="rgba(100,149,237,0.6)",
                line=dict(color="#8b1c3c", width=2), layer="above")


shapes.append(bubble(943, 173, 1150, 206, ptr=(1040, 1057, 1097, 330)))
shapes.append(bubble(1052, 107, 1232, 152, ptr=(1133, 1150, 1158, 338)))
shapes.append(bubble(1032, 509, 1184, 553))

# ---------------- annotations ----------------
ann = []


def text(x, y, s, size=12.5, color="#555", xanchor="left", family=FONT, **kw):
    ann.append(dict(xref="paper", yref="paper", x=px(x), y=py(y), text=s, showarrow=False,
                    xanchor=xanchor, yanchor="middle", font=dict(family=family, size=size, color=color), **kw))


text(627, 226, "BTCUSD, D", size=100, color="rgba(60,90,110,0.15)", xanchor="center")
text(630, 314, "Bitcoin / Dollar", size=58, color="rgba(60,90,110,0.15)", xanchor="center")

text(15, 61, "<b>Bitcoin / Dollar, D, BITSTAMP</b>", color="#444")
text(15, 78, "BB (20, close, 2)")
text(15, 490, "MACD (12, 26, close, 9, false, true)")
text(15, 574, "RSI (14, close)")
text(15, 658, "DMI (14, 14)")

HF = "DejaVu Sans Condensed, Liberation Sans Narrow, Liberation Sans, sans-serif"
text(5, 13, "<span style='color:#2a8bd6'><b>sammantic</b></span> published on TradingView.com, May 18, 2015",
     size=11.5, color="#222", family=HF)
red = "#b81f1f"
text(5, 30, f"<b>BITSTAMP:BTCUSD</b> 235.58 <span style='color:#8b0000'>▼</span>−0.39 (−0.17%) "
            f"<b>O:</b><span style='color:{red}'>235.69</span> <b>H:</b><span style='color:{red}'>236.36</span> "
            f"<b>L:</b><span style='color:{red}'>235.05</span> <b>C:</b><span style='color:{red}'>235.58</span>",
     size=11, color="#222", family=HF)

for s, x, y in [("~$230 USD is becoming a", 1063, 122), ("big level to watch.", 1063, 135),
                ("Bollinger Bands are tightening", 954, 189),
                ("Indicators all showing", 1042, 524), ("momentum waning", 1042, 537)]:
    text(x, y, f"<b>{s}</b>", size=12.7, color="#ffffff")

ann.append(dict(xref="paper", yref="y", x=px(1246), y=last_price, text="<b>235.58</b>", showarrow=False,
                xanchor="left", yanchor="middle", bgcolor="#d64a3b", borderpad=2,
                font=dict(family=FONT, size=11.5, color="#ffffff")))

# ---------------- layout ----------------
axis_font = dict(family=FONT, size=11, color="#444")
fig.update_layout(
    width=W, height=H, margin=dict(l=ML, r=MR, t=MT, b=MB),
    paper_bgcolor="#ffffff", plot_bgcolor="#ffffff", showlegend=False,
    boxgap=0.18, bargap=0, barmode="overlay",
    shapes=shapes, annotations=ann,
)
xr = [-0.55, 222.6]
for i in range(1, 5):
    fig.update_xaxes(range=xr, showgrid=False, zeroline=False, showline=False, rangeslider_visible=False,
                     fixedrange=True, row=i, col=1)
fig.update_xaxes(tickmode="array", tickvals=[xpos(d) for d in tick_dates], ticktext=tick_text,
                 ticks="outside", ticklen=4, tickcolor="#666", tickfont=dict(family=FONT, size=11, color="#555"),
                 showticklabels=True, row=4, col=1)

common_y = dict(side="right", showgrid=False, zeroline=False, showline=False, ticks="outside", ticklen=4,
                tickcolor="#666", tickfont=axis_font, fixedrange=True)
fig.update_yaxes(range=[137.7, 472.5], tickvals=list(range(150, 451, 25)), tickformat=".2f",
                 row=1, col=1, **common_y)
fig.update_yaxes(range=[-36.9, 19.1], tickvals=[0, -20], tickformat=".4f", row=2, col=1, **common_y)
fig.update_yaxes(range=[15.2, 76.6], tickvals=[20, 40, 60], tickformat=".4f", row=3, col=1, **common_y)
fig.update_yaxes(range=[4.45, 53.4], tickvals=[20, 40], tickformat=".4f", row=4, col=1, **common_y)

fig.write_html("out.html", config={"displayModeBar": False})

# the page must start at the window's top-left corner (no default body margin)
with open("out.html", encoding="utf-8") as f:
    html = f.read()
html = html.replace("<body>", '<body style="margin:0;padding:0;overflow:hidden;">', 1)
with open("out.html", "w", encoding="utf-8") as f:
    f.write(html)
